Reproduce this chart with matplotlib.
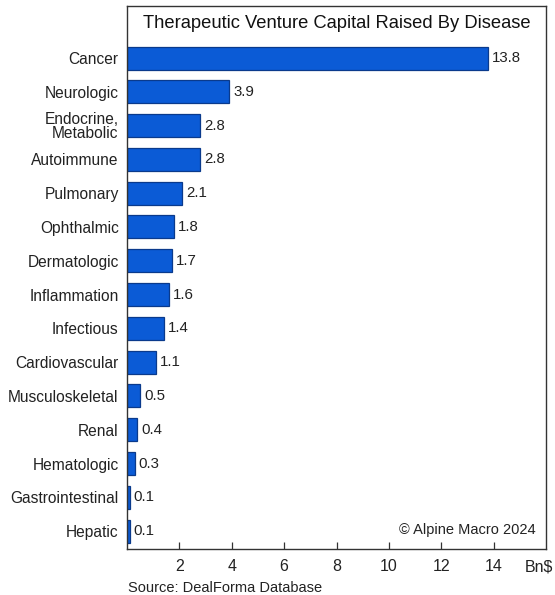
import matplotlib
matplotlib.use("Agg")
import matplotlib.pyplot as plt

plt.rcParams["font.family"] = ["Liberation Sans", "DejaVu Sans"]

categories = ["Cancer", "Neurologic", "Endocrine,\nMetabolic", "Autoimmune", "Pulmonary",
              "Ophthalmic", "Dermatologic", "Inflammation", "Infectious", "Cardiovascular",
              "Musculoskeletal", "Renal", "Hematologic", "Gastrointestinal", "Hepatic"]
values = [13.8, 3.9, 2.8, 2.8, 2.1, 1.8, 1.7, 1.6, 1.4, 1.1, 0.5, 0.4, 0.3, 0.1, 0.1]
xticks = [2, 4, 6, 8, 10, 12, 14]

BAR = "#0b5bd6"
EDGE = "#0a3a8c"
INK = "#222222"

fig = plt.figure(figsize=(5.55, 5.95), dpi=100)
ax = fig.add_axes([127 / 555, 46 / 595, 419 / 555, 543 / 595])

pos = list(range(len(categories)))
ax.barh(pos, values, height=0.68, color=BAR, edgecolor=EDGE, linewidth=0.9)
for p, v in zip(pos, values):
    ax.text(v + 0.15, p, f"{v:.1f}", va="center", ha="left", fontsize=10.8, color=INK)

ax.set_xlim(0, 16)
ax.set_ylim(len(categories) - 0.47, -1.54)
ax.set_yticks(pos)
ax.set_yticklabels(categories, fontsize=11.2, color=INK, linespacing=0.9)
ax.tick_params(axis="y", length=0, pad=6)
ax.set_xticks(xticks)
ax.set_xticklabels([str(t) for t in xticks], fontsize=11.5, color=INK)
ax.tick_params(axis="x", direction="in", length=5, width=0.9, pad=7, color="#333333")
for s in ax.spines.values():
    s.set_color("#333333")
    s.set_linewidth(1.0)

ax.text(0.5, 0.968, "Therapeutic Venture Capital Raised By Disease", transform=ax.transAxes,
        ha="center", va="center", fontsize=13.2, color="#111111")
ax.text(0.975, 0.035, "\u00a9 Alpine Macro 2024", transform=ax.transAxes,
        ha="right", va="center", fontsize=10.5, color=INK)
fig.text(553 / 555, 1 - 567 / 595, "Bn$", ha="right", va="center", fontsize=11.5, color=INK)
fig.text(128 / 555, 1 - 588 / 595, "Source: DealForma Database", ha="left", va="center",
         fontsize=10.5, color=INK)

fig.savefig("out.png", dpi=100, facecolor="white")
